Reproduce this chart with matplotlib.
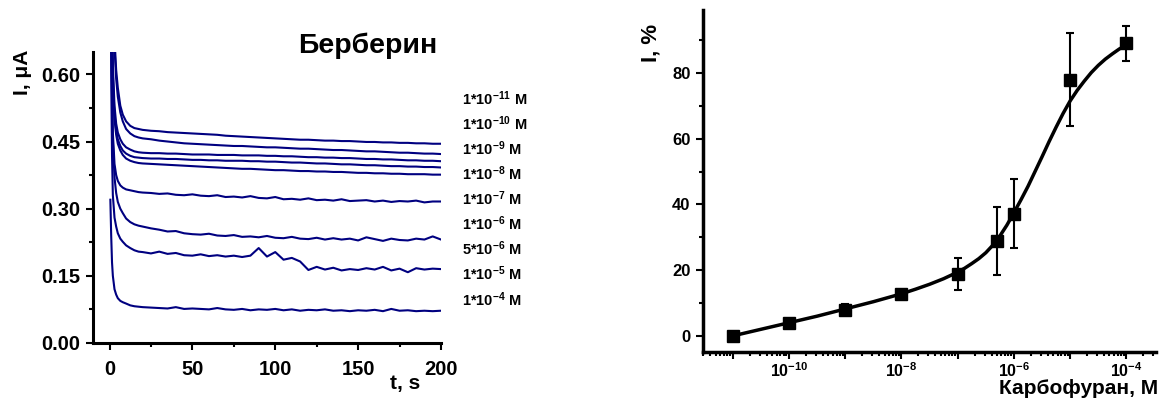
import numpy as np
import matplotlib.pyplot as plt
from matplotlib.ticker import MultipleLocator, LogLocator, NullFormatter

plt.rcParams['font.family'] = ['Liberation Sans', 'DejaVu Sans']
plt.rcParams['font.weight'] = 'bold'
plt.rcParams['axes.labelweight'] = 'bold'
plt.rcParams['mathtext.fontset'] = 'custom'
plt.rcParams['mathtext.rm'] = 'Liberation Sans:bold'
plt.rcParams['mathtext.bf'] = 'Liberation Sans:bold'
plt.rcParams['mathtext.it'] = 'Liberation Sans:bold'

# chronoamperograms, berberine
t = [0.5, 1, 1.5, 2, 3, 4, 5, 6.5, 8, 10, 12.5, 15, 17.5, 20,
     25, 30, 35, 40, 45, 50, 55, 60, 65, 70, 75, 80, 85, 90, 95, 100,
     105, 110, 115, 120, 125, 130, 135, 140, 145, 150, 155, 160, 165,
     170, 175, 180, 185, 190, 195, 200]

i_1e11 = [1.5, 1.2, 0.95, 0.82, 0.68, 0.61, 0.57, 0.53, 0.51, 0.495, 0.485, 0.480, 0.478, 0.476,
          0.474, 0.473, 0.471, 0.470, 0.469, 0.468, 0.467, 0.466, 0.465, 0.463, 0.462, 0.461, 0.460, 0.459, 0.458, 0.457,
          0.456, 0.455, 0.454, 0.454, 0.453, 0.452, 0.452, 0.451, 0.451, 0.450, 0.449, 0.449, 0.448,
          0.448, 0.447, 0.447, 0.446, 0.446, 0.445, 0.445]
i_1e10 = [1.5, 1.2, 0.95, 0.80, 0.66, 0.59, 0.55, 0.515, 0.495, 0.478, 0.468, 0.462, 0.459, 0.457,
          0.455, 0.452, 0.450, 0.448, 0.446, 0.445, 0.444, 0.443, 0.442, 0.441, 0.440, 0.440, 0.439, 0.438, 0.437, 0.437,
          0.436, 0.435, 0.434, 0.434, 0.433, 0.432, 0.431, 0.431, 0.430, 0.429, 0.428, 0.428, 0.427,
          0.426, 0.425, 0.425, 0.424, 0.423, 0.423, 0.422]
i_1e9 = [1.4, 1.0, 0.75, 0.62, 0.53, 0.49, 0.47, 0.455, 0.445, 0.437, 0.432, 0.428, 0.426, 0.425,
         0.424, 0.424, 0.423, 0.423, 0.422, 0.421, 0.421, 0.421, 0.420, 0.420, 0.420, 0.419, 0.419, 0.419, 0.418, 0.418,
         0.417, 0.417, 0.416, 0.415, 0.415, 0.414, 0.414, 0.413, 0.413, 0.412, 0.411, 0.411, 0.410,
         0.410, 0.409, 0.408, 0.408, 0.407, 0.407, 0.406]
i_1e8 = [1.3, 0.95, 0.72, 0.60, 0.51, 0.475, 0.455, 0.44, 0.43, 0.423, 0.418, 0.415, 0.414, 0.413,
         0.412, 0.412, 0.411, 0.411, 0.410, 0.409, 0.409, 0.408, 0.408, 0.407, 0.407, 0.407, 0.406, 0.406, 0.405, 0.405,
         0.404, 0.403, 0.403, 0.402, 0.401, 0.401, 0.400, 0.399, 0.399, 0.398, 0.397, 0.397, 0.396,
         0.395, 0.395, 0.394, 0.394, 0.393, 0.393, 0.392]
i_1e7 = [1.3, 0.93, 0.70, 0.58, 0.50, 0.465, 0.445, 0.43, 0.42, 0.412, 0.407, 0.404, 0.402, 0.401,
         0.400, 0.399, 0.398, 0.397, 0.396, 0.395, 0.394, 0.393, 0.392, 0.391, 0.390, 0.389, 0.389, 0.388, 0.387, 0.386,
         0.386, 0.385, 0.384, 0.384, 0.383, 0.383, 0.382, 0.382, 0.381, 0.380, 0.380, 0.379, 0.379,
         0.378, 0.378, 0.377, 0.377, 0.377, 0.376, 0.376]
i_1e6 = [1.2, 0.80, 0.60, 0.47, 0.40, 0.375, 0.362, 0.352, 0.347, 0.343, 0.341, 0.339, 0.337, 0.336,
         0.335, 0.333, 0.334, 0.331, 0.330, 0.332, 0.329, 0.328, 0.330, 0.326, 0.327, 0.325, 0.328, 0.324, 0.323, 0.326,
         0.321, 0.322, 0.320, 0.323, 0.319, 0.320, 0.318, 0.321, 0.317, 0.318, 0.319, 0.316, 0.318,
         0.315, 0.317, 0.316, 0.318, 0.314, 0.316, 0.316]
i_5e6 = [1.1, 0.75, 0.55, 0.45, 0.37, 0.335, 0.315, 0.300, 0.290, 0.278, 0.270, 0.265, 0.262, 0.260,
         0.256, 0.253, 0.249, 0.250, 0.245, 0.243, 0.242, 0.244, 0.240, 0.239, 0.241, 0.237, 0.238, 0.236, 0.239, 0.235,
         0.234, 0.237, 0.233, 0.232, 0.235, 0.231, 0.234, 0.231, 0.233, 0.229, 0.236, 0.232, 0.228,
         0.233, 0.230, 0.229, 0.233, 0.231, 0.238, 0.231]
i_1e5 = [1.0, 0.60, 0.42, 0.33, 0.28, 0.26, 0.245, 0.233, 0.226, 0.218, 0.212, 0.207, 0.204, 0.203,
         0.200, 0.204, 0.199, 0.201, 0.196, 0.195, 0.198, 0.194, 0.196, 0.193, 0.195, 0.192, 0.195, 0.212, 0.193, 0.203,
         0.186, 0.190, 0.182, 0.163, 0.170, 0.164, 0.168, 0.162, 0.165, 0.163, 0.167, 0.164, 0.170,
         0.162, 0.166, 0.158, 0.167, 0.164, 0.166, 0.165]
i_1e4 = [0.32, 0.24, 0.18, 0.15, 0.12, 0.108, 0.100, 0.094, 0.091, 0.088, 0.084, 0.082, 0.081, 0.080,
         0.079, 0.078, 0.077, 0.080, 0.076, 0.077, 0.076, 0.075, 0.078, 0.075, 0.074, 0.076, 0.073, 0.075, 0.074, 0.076,
         0.073, 0.075, 0.072, 0.074, 0.073, 0.075, 0.072, 0.073, 0.071, 0.073, 0.072, 0.074, 0.071,
         0.076, 0.072, 0.073, 0.071, 0.072, 0.071, 0.072]

curves = [i_1e11, i_1e10, i_1e9, i_1e8, i_1e7, i_1e6, i_5e6, i_1e5, i_1e4]
conc_labels = [r'$1{*}10^{-11}$ M', r'$1{*}10^{-10}$ M', r'$1{*}10^{-9}$ M',
               r'$1{*}10^{-8}$ M', r'$1{*}10^{-7}$ M', r'$1{*}10^{-6}$ M',
               r'$5{*}10^{-6}$ M', r'$1{*}10^{-5}$ M', r'$1{*}10^{-4}$ M']

# calibration, carbofuran
conc = [1e-11, 1e-10, 1e-9, 1e-8, 1e-7, 5e-7, 1e-6, 1e-5, 1e-4]
inhib = [0.0, 4.0, 8.0, 12.7, 18.9, 28.9, 37.2, 78.0, 89.0]
inhib_err = [0.0, 0.8, 1.8, 1.0, 4.8, 10.3, 10.5, 14.1, 5.3]

fit_logc = [-11, -10.75, -10.5, -10.25, -10, -9.75, -9.5, -9.25, -9, -8.75, -8.5, -8.25,
            -8, -7.75, -7.5, -7.25, -7, -6.875, -6.75, -6.625, -6.5, -6.375, -6.25, -6.125,
            -6, -5.875, -5.75, -5.625, -5.5, -5.375, -5.25, -5.125, -5, -4.875, -4.75,
            -4.625, -4.5, -4.375, -4.25, -4.125, -4]
fit_inhib = [0.0, 1.0, 2.0, 3.0, 4.0, 5.0, 6.0, 7.1, 8.2, 9.3, 10.4, 11.6,
             12.8, 14.2, 15.7, 17.4, 19.4, 20.6, 22.0, 23.5, 25.3, 27.6, 30.4, 33.7,
             37.5, 41.4, 45.5, 50.0, 54.5, 59.1, 63.5, 67.7, 71.5, 74.7, 77.5,
             80.1, 82.3, 84.2, 85.8, 87.3, 88.5]

fig = plt.figure(figsize=(11.62, 4.03), dpi=100)

ax1 = fig.add_axes([0.080, 0.149, 0.2995, 0.722])
for vals in curves:
    ax1.plot(t, vals, color='#000080', lw=1.5)
ax1.set_xlim(-10, 200)
ax1.set_ylim(0, 0.65)
ax1.set_xticks([0, 50, 100, 150, 200])
ax1.set_yticks([0.0, 0.15, 0.30, 0.45, 0.60])
ax1.set_yticklabels(['0.00', '0.15', '0.30', '0.45', '0.60'])
ax1.xaxis.set_minor_locator(MultipleLocator(25))
ax1.yaxis.set_minor_locator(MultipleLocator(0.075))
ax1.tick_params(which='both', direction='out', width=1.5, labelsize=14.5)
ax1.tick_params(which='major', length=5)
ax1.tick_params(which='minor', length=3)
ax1.tick_params(axis='x', pad=7)
ax1.tick_params(axis='y', pad=4)
for s in ['top', 'right']:
    ax1.spines[s].set_visible(False)
for s in ['left', 'bottom']:
    ax1.spines[s].set_linewidth(2.2)

fig.text(22 / 1162, 1 - 72 / 403, 'I, μA', rotation=90, ha='center', va='center', fontsize=15)
fig.text(405 / 1162, 1 - 384 / 403, 't, s', ha='center', va='center', fontsize=15)
fig.text(298 / 1162, 1 - 53 / 403, 'Берберин', ha='left', va='baseline', fontsize=20.5)

label_y = [99, 124, 149, 174, 199, 224, 249, 274, 300]
for ly, txt in zip(label_y, conc_labels):
    fig.text(462 / 1162, 1 - ly / 403, txt, ha='left', va='center', fontsize=10.5)

ax2 = fig.add_axes([0.605, 0.1266, 0.390, 0.849])
ax2.set_xscale('log')
ax2.plot(10.0 ** np.array(fit_logc), fit_inhib, color='black', lw=2.5, zorder=2)
ax2.errorbar(conc, inhib, yerr=inhib_err, fmt='s', color='black', ms=8,
             ecolor='black', elinewidth=1.5, capsize=3, capthick=1.5, zorder=3)
ax2.set_xlim(10 ** -11.53, 10 ** -3.47)
ax2.set_ylim(-4.9, 99.2)
decades = [1e-11, 1e-10, 1e-9, 1e-8, 1e-7, 1e-6, 1e-5, 1e-4]
ax2.set_xticks(decades)
ax2.set_xticklabels(['', r'$10^{-10}$', '', r'$10^{-8}$', '', r'$10^{-6}$', '', r'$10^{-4}$'])
ax2.xaxis.set_minor_locator(LogLocator(base=10, subs=np.arange(2, 10), numticks=20))
ax2.xaxis.set_minor_formatter(NullFormatter())
ax2.set_yticks([0, 20, 40, 60, 80])
ax2.yaxis.set_minor_locator(MultipleLocator(10))
ax2.tick_params(which='both', direction='out', width=1.5)
ax2.tick_params(which='major', length=5)
ax2.tick_params(which='minor', length=3)
ax2.tick_params(axis='x', labelsize=11.5, pad=2)
ax2.tick_params(axis='y', labelsize=12, pad=4)
for s in ['top', 'right']:
    ax2.spines[s].set_visible(False)
for s in ['left', 'bottom']:
    ax2.spines[s].set_linewidth(2.5)

fig.text(651 / 1162, 1 - 43 / 403, 'I, %', rotation=90, ha='center', va='center', fontsize=16)
fig.text(1158 / 1162, 1 - 394 / 403, 'Карбофуран, М', ha='right', va='baseline', fontsize=15)

fig.savefig('out.png', dpi=100)
